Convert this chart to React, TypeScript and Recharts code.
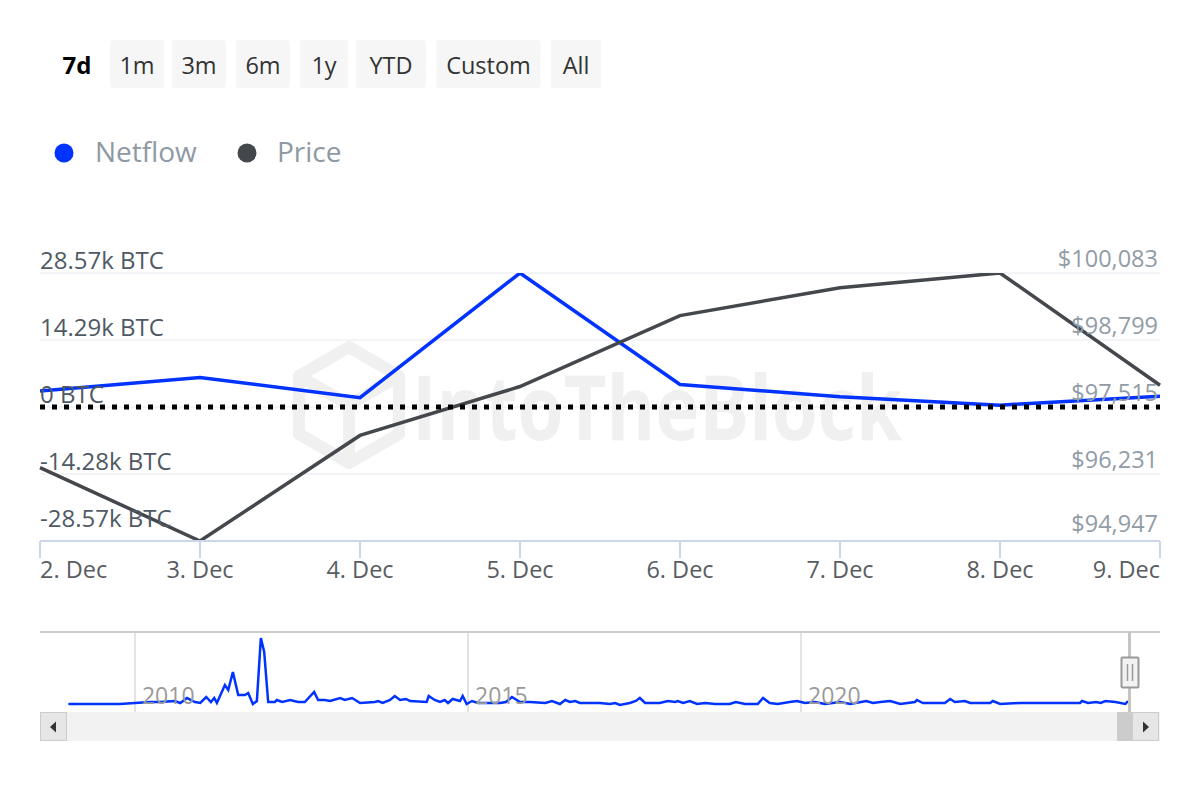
import React from "react";
import { LineChart, Line, XAxis, YAxis, CartesianGrid, ReferenceLine } from "recharts";

// ---------- data ----------
const dates = ["2. Dec", "3. Dec", "4. Dec", "5. Dec", "6. Dec", "7. Dec", "8. Dec", "9. Dec"];
const netflowK = [3.4, 6.3, 2.0, 28.57, 4.8, 2.2, 0.4, 2.3];
const priceUsd = [96352, 94947, 96970, 97907, 99266, 99802, 100083, 97932];

const netflowTicks = [-28.57, -14.28, 0, 14.29, 28.57];
const netflowTickLabels = ["-28.57k BTC", "-14.28k BTC", "0 BTC", "14.29k BTC", "28.57k BTC"];
const priceTicks = [94947, 96231, 97515, 98799, 100083];
const priceTickLabels = ["$94,947", "$96,231", "$97,515", "$98,799", "$100,083"];

const navYears = [
  2009.0, 2009.77, 2010.0, 2010.23, 2010.38, 2010.6, 2010.68, 2010.78, 2010.9, 2010.98,
  2011.07, 2011.14, 2011.19, 2011.23, 2011.35, 2011.4, 2011.47, 2011.55, 2011.65, 2011.7,
  2011.77, 2011.83, 2011.89, 2011.94, 2012.0, 2012.1, 2012.13, 2012.21, 2012.33, 2012.45,
  2012.55, 2012.69, 2012.75, 2012.85, 2012.93, 2013.08, 2013.15, 2013.26, 2013.38, 2013.6,
  2013.65, 2013.72, 2013.83, 2013.9, 2013.98, 2014.07, 2014.13, 2014.38, 2014.41, 2014.5,
  2014.58, 2014.65, 2014.7, 2014.77, 2014.88, 2014.92, 2014.98, 2015.06, 2015.15, 2015.48,
  2015.57, 2015.66, 2015.78, 2015.93, 2016.16, 2016.26, 2016.38, 2016.46, 2016.53, 2016.61,
  2016.68, 2016.98, 2017.13, 2017.21, 2017.28, 2017.43, 2017.52, 2017.58, 2017.66, 2017.88,
  2018.0, 2018.11, 2018.15, 2018.23, 2018.33, 2018.44, 2018.56, 2018.71, 2018.93, 2019.02,
  2019.16, 2019.35, 2019.43, 2019.53, 2019.65, 2019.83, 2019.94, 2020.06, 2020.21, 2020.36,
  2020.59, 2020.74, 2020.98, 2021.08, 2021.19, 2021.34, 2021.49, 2021.71, 2021.74, 2021.83,
  2022.16, 2022.24, 2022.31, 2022.46, 2022.54, 2022.84, 2022.88, 2022.99, 2023.29, 2023.59,
  2023.89, 2024.19, 2024.22, 2024.31, 2024.43, 2024.5, 2024.57, 2024.72, 2024.87, 2024.91,
];
const navValues = [
  0, 0, 1, 2, 2, 3, 1, 6, 2, 1,
  7, 2, 6, 1, 19, 14, 32, 9, 9, 11,
  0, 3, 66, 52, 2, 2, 4, 2, 4, 2,
  2, 12, 4, 4, 3, 6, 4, 6, 1, 2,
  3, 1, 4, 8, 4, 5, 3, 2, 8, 4,
  2, 4, 1, 5, 3, 8, 0, 3, 1, 1,
  2, 7, 2, 2, 1, 3, 0, 4, 2, 3,
  1, 1, 0, 1, -1, 1, 3, 6, 1, 1,
  3, 2, 3, 1, 3, 0, 1, 0, 0, 2,
  0, 0, 6, 1, 0, 2, 3, 1, 2, 0,
  2, 0, 3, 1, 2, 3, 0, 2, 4, 1,
  1, 5, 2, 3, 1, 1, 3, 0, 1, 1,
  1, 1, 3, 1, 2, 1, 3, 2, 0, 3,
];
const navYearTicks = [2010, 2015, 2020];
const NAV_DOMAIN = [2008.574, 2025.39];

const rangeButtons = ["7d", "1m", "3m", "6m", "1y", "YTD", "Custom", "All"];
const seriesNames = ["Netflow", "Price"];

// ---------- styles / layout ----------
const FONT = "'Open Sans', 'Noto Sans', sans-serif";
const BLUE = "#0033ff";
const GRAY = "#44484d";
const M = { top: 273, right: 39, bottom: 0, left: 39 };
const PLOT_LEFT = 40;
const PLOT_RIGHT = 1160;
const CHART_W = 1200;
const MAIN_H = 600;
const PLOT_BOTTOM = 541;

const buttonBoxes = [
  { cx: 77, w: 0 },
  { cx: 137, w: 54 },
  { cx: 199, w: 54 },
  { cx: 263, w: 54 },
  { cx: 324, w: 48 },
  { cx: 391, w: 70 },
  { cx: 488.5, w: 104 },
  { cx: 576, w: 50 },
];

const mainData = dates.map((d, i) => ({ date: d, netflow: netflowK[i], price: priceUsd[i] }));
const navData = navYears.map((y, i) => ({ year: y, v: navValues[i] }));

const XTick = (props: any) => {
  const { x, payload, index } = props;
  const last = dates.length - 1;
  const anchor = index === 0 ? "start" : index === last ? "end" : "middle";
  return (
    <text x={x} y={PLOT_BOTTOM + 37} textAnchor={anchor} fontFamily={FONT} fontSize={23.5} fill="#585d63">
      {payload.value}
    </text>
  );
};

const LeftTick = (props: any) => {
  const { y, payload } = props;
  const i = netflowTicks.indexOf(payload.value);
  const off = i === 0 ? 14 : 4;
  return (
    <text x={PLOT_LEFT} y={y - off} textAnchor="start" fontFamily={FONT} fontSize={24} fill="#4f5964">
      {netflowTickLabels[i]}
    </text>
  );
};

const RightTick = (props: any) => {
  const { y, payload } = props;
  const i = priceTicks.indexOf(payload.value);
  const off = i === 0 ? 9 : 6;
  return (
    <text x={PLOT_RIGHT - 2} y={y - off} textAnchor="end" fontFamily={FONT} fontSize={23.5} fill="#919ca7">
      {priceTickLabels[i]}
    </text>
  );
};

const NAV_TOP = 600;
const NavTick = (props: any) => {
  const { x, payload } = props;
  return (
    <text x={x + 7} y={704 - NAV_TOP} textAnchor="start" fontFamily={FONT} fontSize={23} fill="#9a9a9a">
      {payload.value}
    </text>
  );
};

const navGridGen = (args: any) => {
  const s = args?.xAxis?.scale;
  if (typeof s === "function") return navYearTicks.map((t) => s(t));
  const off = args?.offset;
  if (!off) return [];
  return navYearTicks.map((t) => off.left + ((t - NAV_DOMAIN[0]) / (NAV_DOMAIN[1] - NAV_DOMAIN[0])) * off.width);
};

export default function App() {
  return (
    <div style={{ position: "absolute", left: 0, top: 0, width: 1200, height: 800, background: "#fff", overflow: "hidden" }}>
      {/* watermark */}
      <svg width={1200} height={800} style={{ position: "absolute", left: 0, top: 0 }}>
        <g stroke="#f0f0f0" strokeWidth={12} fill="none" strokeLinejoin="round">
          <polygon points="349,347 399,376 399,434 349,463 299,434 299,376" />
          <polyline points="299,376 349,405 399,376" />
          <line x1={349} y1={405} x2={349} y2={463} />
        </g>
        <text x={412} y={440} fontFamily={FONT} fontWeight={700} fontSize={90} fill="#f0f0f0" textLength={490} lengthAdjust="spacingAndGlyphs">
          IntoTheBlock
        </text>
      </svg>

      {/* main chart */}
      <div style={{ position: "absolute", left: 0, top: 0 }}>
        <LineChart width={CHART_W} height={MAIN_H} data={mainData} margin={M}>
          <CartesianGrid yAxisId="nf" vertical={false} stroke="#eef0f5" strokeWidth={1.5} />
          <XAxis
            dataKey="date"
            interval={0}
            height={MAIN_H - PLOT_BOTTOM}
            tickSize={17}
            axisLine={{ stroke: "#ccd6eb", strokeWidth: 2 }}
            tickLine={{ stroke: "#ccd6eb", strokeWidth: 2 }}
            tick={XTick}
          />
          <YAxis
            yAxisId="nf"
            orientation="left"
            width={1}
            domain={[netflowTicks[0], netflowTicks[netflowTicks.length - 1]]}
            ticks={netflowTicks}
            interval={0}
            axisLine={false}
            tickLine={false}
            tick={LeftTick}
            allowDataOverflow
          />
          <YAxis
            yAxisId="pr"
            orientation="right"
            width={1}
            domain={[priceTicks[0], priceTicks[priceTicks.length - 1]]}
            ticks={priceTicks}
            interval={0}
            axisLine={false}
            tickLine={false}
            tick={RightTick}
            allowDataOverflow
          />
          <Line yAxisId="nf" type="linear" dataKey="netflow" stroke={BLUE} strokeWidth={3.5} dot={false} isAnimationActive={false} />
          <Line yAxisId="pr" type="linear" dataKey="price" stroke={GRAY} strokeWidth={3.5} dot={false} isAnimationActive={false} />
          <ReferenceLine yAxisId="nf" y={0} stroke="#000" strokeWidth={5} strokeDasharray="5 7" />
        </LineChart>
      </div>

      {/* navigator */}
      <div style={{ position: "absolute", left: 0, top: NAV_TOP }}>
        <LineChart width={CHART_W} height={120} data={navData} margin={{ top: 32, right: 40, bottom: 7, left: 40 }}>
          <CartesianGrid horizontal={false} stroke="#e3e3e3" strokeWidth={2} verticalCoordinatesGenerator={navGridGen} />
          <XAxis
            dataKey="year"
            type="number"
            domain={NAV_DOMAIN}
            ticks={navYearTicks}
            interval={0}
            allowDataOverflow
            height={1}
            axisLine={false}
            tickLine={false}
            tick={NavTick}
          />
          <YAxis hide width={0} domain={[-8, 72]} allowDataOverflow />
          <Line type="linear" dataKey="v" stroke={BLUE} strokeWidth={2.5} dot={false} isAnimationActive={false} />
        </LineChart>
      </div>

      {/* UI overlay */}
      <svg width={1200} height={800} style={{ position: "absolute", left: 0, top: 0 }}>
        {rangeButtons.map((b, i) => {
          const box = buttonBoxes[i];
          const selected = i === 0;
          return (
            <g key={b}>
              {!selected && <rect x={box.cx - box.w / 2} y={40} width={box.w} height={48} rx={3} fill="#f6f6f6" />}
              <text
                x={box.cx}
                y={74}
                textAnchor="middle"
                fontFamily={FONT}
                fontSize={selected ? 24 : 23.5}
                fontWeight={selected ? 700 : 400}
                fill={selected ? "#000" : "#333"}
              >
                {b}
              </text>
            </g>
          );
        })}

        {/* legend */}
        <circle cx={64} cy={153} r={9.5} fill={BLUE} />
        <text x={95} y={162} fontFamily={FONT} fontSize={28} fill="#8e99a4">{seriesNames[0]}</text>
        <circle cx={247} cy={153} r={9.5} fill={GRAY} />
        <text x={277} y={162} fontFamily={FONT} fontSize={28} fill="#8e99a4">{seriesNames[1]}</text>

        {/* navigator frame */}
        <line x1={40} y1={632} x2={1160} y2={632} stroke="#cccccc" strokeWidth={2} />
        <line x1={1129.5} y1={632} x2={1129.5} y2={712} stroke="#c4c4c4" strokeWidth={3} />

        {/* scrollbar */}
        <rect x={40} y={712} width={1120} height={29} fill="#f2f2f2" />
        <rect x={1117} y={712} width={15} height={29} fill="#cccccc" />
        <rect x={40.5} y={712.5} width={26} height={28} fill="#e6e6e6" stroke="#cccccc" />
        <polygon points="50,727 56,721.5 56,732.5" fill="#333" />
        <rect x={1132.5} y={712.5} width={26} height={28} fill="#e6e6e6" stroke="#cccccc" />
        <polygon points="1149,727 1143,721.5 1143,732.5" fill="#333" />

        {/* navigator handle */}
        <rect x={1121.5} y={657.5} width={17} height={30} rx={1} fill="#f2f2f2" stroke="#999" strokeWidth={2} />
        <line x1={1127.5} y1={664} x2={1127.5} y2={681} stroke="#999" strokeWidth={1.5} />
        <line x1={1132.5} y1={664} x2={1132.5} y2={681} stroke="#999" strokeWidth={1.5} />
      </svg>
    </div>
  );
}
